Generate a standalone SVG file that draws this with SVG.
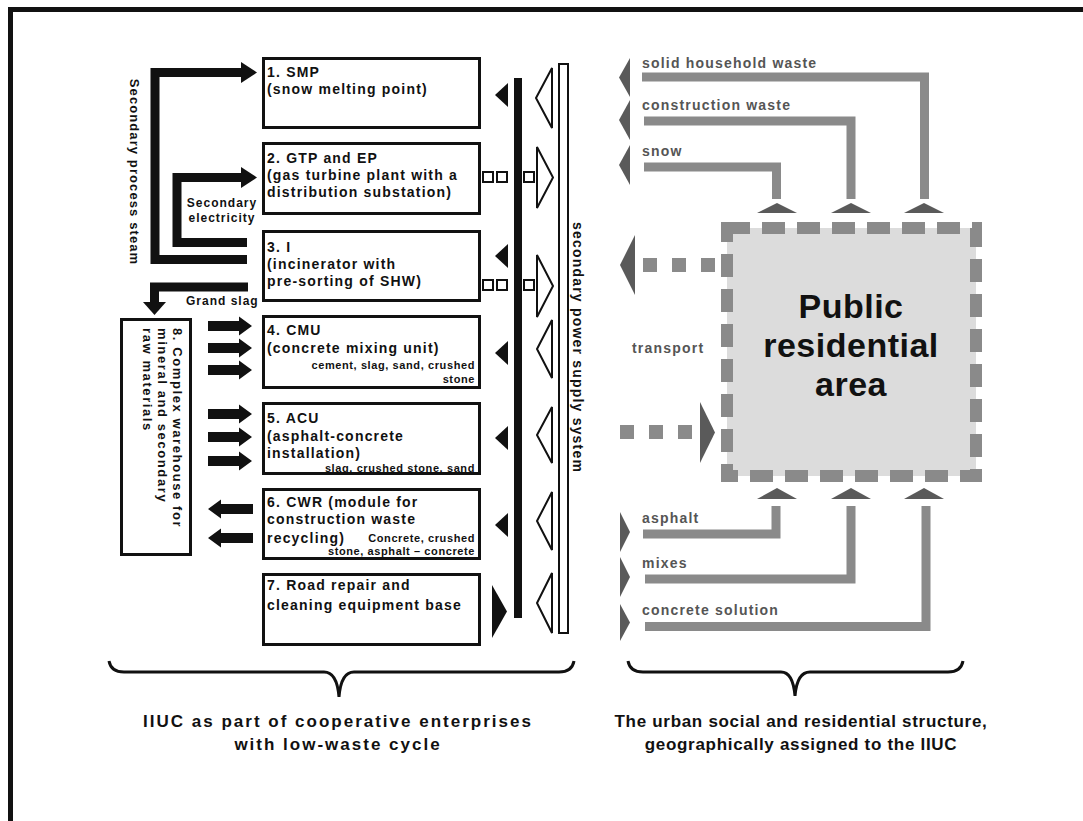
<svg xmlns="http://www.w3.org/2000/svg" width="1083" height="821" viewBox="0 0 1083 821">
<style>
.box{fill:#fff;stroke:#111;stroke-width:3}
.t{font-family:"Liberation Sans",Arial,sans-serif;font-weight:bold;font-size:14px;letter-spacing:1.2px;fill:#111}
.s{font-size:11px;letter-spacing:0.6px;text-anchor:end}
.sm{font-size:12px;letter-spacing:1px}
.w8{font-size:13px;letter-spacing:1.6px}
.g{fill:#555}
.blk{fill:none;stroke:#111;stroke-width:9}
.bf{fill:#111}
.gl{fill:none;stroke:#8a8a8a;stroke-width:9}
.gt{fill:#5a5a5a}
.ht{fill:#fff;stroke:#111;stroke-width:2}
.sq{fill:#fff;stroke:#111;stroke-width:2}
.dot{fill:#8a8a8a}
.brace{fill:none;stroke:#111;stroke-width:3}
.cap{font-size:17px;letter-spacing:2px;text-anchor:middle}
.capr{font-size:17px;letter-spacing:0.7px;text-anchor:middle}
.big{font-size:34px;letter-spacing:0.5px;text-anchor:middle}
</style>
<defs>
<path id="ra" d="M0,-5H31V-9.5L44,0L31,9.5V5H0Z"/>
<path id="la" d="M0,0L13,-9.5V-5H45V5H13V9.5Z"/>
</defs>
<rect width="1083" height="821" fill="#fff"/>
<g id="frame">
<rect x="8" y="7" width="1075" height="5" fill="#111"/>
<rect x="8" y="7" width="5" height="814" fill="#111"/>
</g>

<g id="box1">
<rect class="box" x="263.5" y="58.5" width="216" height="69"/>
<text class="t" x="267" y="77">1. SMP</text>
<text class="t" x="267" y="94">(snow melting point)</text>
</g>
<g id="box2">
<rect class="box" x="263.5" y="143.5" width="216" height="70"/>
<text class="t" x="267" y="163">2. GTP and EP</text>
<text class="t" x="267" y="180">(gas turbine plant with a</text>
<text class="t" x="267" y="197">distribution substation)</text>
</g>
<g id="box3">
<rect class="box" x="263.5" y="231.5" width="216" height="69"/>
<text class="t" x="267" y="252">3. I</text>
<text class="t" x="267" y="269">(incinerator with</text>
<text class="t" x="267" y="286">pre-sorting of SHW)</text>
</g>
<g id="box4">
<rect class="box" x="263.5" y="316.5" width="216" height="71"/>
<text class="t" x="267" y="335">4. CMU</text>
<text class="t" x="267" y="353">(concrete mixing unit)</text>
<text class="t s" x="475" y="369">cement, slag, sand, crushed</text>
<text class="t s" x="475" y="383">stone</text>
</g>
<g id="box5">
<rect class="box" x="263.5" y="403.5" width="216" height="70"/>
<text class="t" x="267" y="423">5. ACU</text>
<text class="t" x="267" y="441">(asphalt-concrete</text>
<text class="t" x="267" y="458">installation)</text>
<text class="t s" x="475" y="471.5">slag, crushed stone, sand</text>
</g>
<g id="box6">
<rect class="box" x="263.5" y="489.5" width="216" height="69"/>
<text class="t" x="267" y="507">6. CWR (module for</text>
<text class="t" x="267" y="524">construction waste</text>
<text class="t" x="267" y="543">recycling)</text>
<text class="t s" x="475" y="542">Concrete, crushed</text>
<text class="t s" x="475" y="555">stone, asphalt – concrete</text>
</g>
<g id="box7">
<rect class="box" x="263.5" y="574.5" width="216" height="70"/>
<text class="t" x="267" y="590">7. Road repair and</text>
<text class="t" x="267" y="610">cleaning equipment base</text>
</g>
<g id="box8">
<rect class="box" x="121.5" y="319.5" width="69" height="235"/>
<text class="t w8" transform="translate(173,328) rotate(90)">8. Complex warehouse for</text>
<text class="t w8" transform="translate(158,328) rotate(90)">mineral and secondary</text>
<text class="t w8" transform="translate(143,328) rotate(90)">raw materials</text>
</g>

<g id="power-bus">
<rect x="514" y="78" width="8" height="540" fill="#111"/>
<rect x="559" y="64" width="9" height="569" fill="#fff" stroke="#111" stroke-width="2"/>
<text class="t" transform="translate(573,222) rotate(90)">secondary power supply system</text>
</g>

<g id="public-area">
<rect x="727" y="228" width="249" height="248" fill="#dcdcdc" stroke="#8a8a8a" stroke-width="12" stroke-dasharray="23 12"/>
<text class="t big" x="851" y="318">Public</text>
<text class="t big" x="851" y="357">residential</text>
<text class="t big" x="851" y="396">area</text>
</g>

<g id="connectors">
<path class="blk" d="M247 259.5H155V72.5H243"/>
<polygon class="bf" points="241,62 257,72.5 241,83"/>
<path class="blk" d="M247 242.5H177V177.5H243"/>
<polygon class="bf" points="241,167 257,177.5 241,188"/>
<path class="blk" d="M248 287H154.5V304"/>
<polygon class="bf" points="143,302 166,302 154.5,315"/>

<use href="#ra" class="bf" x="208" y="326"/>
<use href="#ra" class="bf" x="208" y="348"/>
<use href="#ra" class="bf" x="208" y="370"/>
<use href="#ra" class="bf" x="208" y="414"/>
<use href="#ra" class="bf" x="208" y="437"/>
<use href="#ra" class="bf" x="208" y="461"/>
<use href="#la" class="bf" x="208" y="509"/>
<use href="#la" class="bf" x="208" y="538"/>

<polygon class="bf" points="495,95 508,83 508,107"/>
<polygon class="bf" points="495,256 508,244 508,268"/>
<polygon class="bf" points="495,353 508,341 508,365"/>
<polygon class="bf" points="495,438 508,426 508,450"/>
<polygon class="bf" points="495,525 508,513 508,537"/>
<polygon class="bf" points="492,585 507,611.5 492,638"/>

<polygon class="ht" points="552,68 536,98 552,128"/>
<polygon class="ht" points="537,147 553,177.5 537,208"/>
<polygon class="ht" points="537,255 553,286 537,317"/>
<polygon class="ht" points="552,320 537,349 552,378"/>
<polygon class="ht" points="552,407 537,435 552,463"/>
<polygon class="ht" points="552,492 537,521 552,550"/>
<polygon class="ht" points="552,573 537,603 552,633"/>

<rect class="sq" x="483" y="172" width="10" height="10"/>
<rect class="sq" x="497" y="172" width="10" height="10"/>
<rect class="sq" x="524" y="172" width="10" height="10"/>
<rect class="sq" x="483" y="280" width="10" height="10"/>
<rect class="sq" x="497" y="280" width="10" height="10"/>
<rect class="sq" x="524" y="280" width="10" height="10"/>

<path class="gl" d="M642 77H924.5V199"/>
<path class="gl" d="M644 121H851V199"/>
<path class="gl" d="M644 167H776.5V199"/>
<polygon class="gt" points="757,213 777,203 797,213"/>
<polygon class="gt" points="831,213 851,203 871,213"/>
<polygon class="gt" points="904,213 924,203 944,213"/>
<polygon class="gt" points="619,77.5 630,58 630,97"/>
<polygon class="gt" points="619,120 630,100 630,140"/>
<polygon class="gt" points="619,165 630,145 630,185"/>

<polygon class="gt" points="620,265 635,235 635,295"/>
<rect class="dot" x="643" y="258" width="14" height="14"/>
<rect class="dot" x="672" y="258" width="14" height="14"/>
<rect class="dot" x="701" y="258" width="14" height="14"/>

<rect class="dot" x="620" y="425" width="14" height="14"/>
<rect class="dot" x="649" y="425" width="14" height="14"/>
<rect class="dot" x="678" y="425" width="14" height="14"/>
<polygon class="gt" points="700,402 715,432.5 700,463"/>

<path class="gl" d="M643 534H776V506"/>
<path class="gl" d="M645 579H851V506"/>
<path class="gl" d="M645 626.5H926V506"/>
<polygon class="gt" points="757,499 777,488 797,499"/>
<polygon class="gt" points="831,499 851,488 871,499"/>
<polygon class="gt" points="904,499 924,488 944,499"/>
<polygon class="gt" points="620,512 630,532 620,552"/>
<polygon class="gt" points="620,557 630,577 620,597"/>
<polygon class="gt" points="620,604 630,622.5 620,641"/>
</g>

<g id="labels">
<text class="t" transform="translate(130,172) rotate(90)" text-anchor="middle" style="font-size:13px;letter-spacing:1.1px">Secondary process steam</text>
<text class="t sm" x="222" y="207" text-anchor="middle">Secondary</text>
<text class="t sm" x="222" y="222" text-anchor="middle">electricity</text>
<text class="t sm" x="186" y="305">Grand slag</text>
<text class="t g" x="642" y="68">solid household waste</text>
<text class="t g" x="642" y="110">construction waste</text>
<text class="t g" x="642" y="156">snow</text>
<text class="t g" x="632" y="353">transport</text>
<text class="t g" x="642" y="523">asphalt</text>
<text class="t g" x="642" y="568">mixes</text>
<text class="t g" x="642" y="615">concrete solution</text>
</g>

<g id="braces">
<path class="brace" d="M109 661Q111 672 124 672H324Q337 672 339 697Q341 672 354 672H559Q572 672 574 661"/>
<path class="brace" d="M628 661Q630 672 643 672H781Q793 672 795 696Q797 672 810 672H948Q961 672 963 661"/>
<text class="t cap" x="338" y="727">IIUC as part of cooperative enterprises</text>
<text class="t cap" x="338" y="750">with low-waste cycle</text>
<text class="t capr" x="801" y="727">The urban social and residential structure,</text>
<text class="t capr" x="801" y="750">geographically assigned to the IIUC</text>
</g>
</svg>
